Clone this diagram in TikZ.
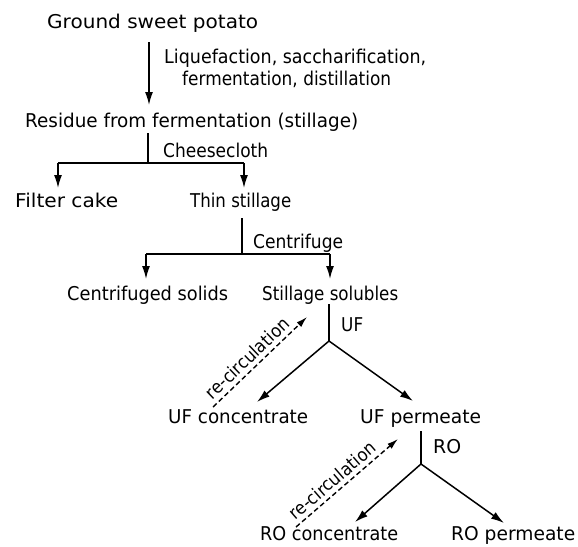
\documentclass[tikz,border=0pt]{standalone}
\usepackage{fontspec}
\setmainfont{DejaVu Sans}
\usepackage{graphicx}
\usetikzlibrary{arrows.meta}
\newcommand\fitw[2]{\resizebox{#1pt}{\height}{#2}}
\begin{document}
\begin{tikzpicture}[x=1pt,y=-1pt,
  txt/.style={inner sep=0pt, anchor=base west, font=\fontsize{19}{22}\selectfont},
  lab/.style={inner sep=0pt, font=\fontsize{18}{21}\selectfont},
  flow/.style={line width=1.5pt},
  arr/.style={line width=1.5pt, -{Latex[length=13pt,width=8pt]}},
  recirc/.style={line width=1.4pt, dash pattern=on 5pt off 3pt, -{Latex[length=11pt,width=6.5pt]}}]
\useasboundingbox (0,0) rectangle (578,546);
% texts
\node[txt] (ground)   at (47,28)   {\fitw{211}{Ground sweet potato}};
\node[txt] (liq1)     at (164,63)  {\fitw{262}{Liquefaction, saccharification,}};
\node[txt] (liq2)     at (182,85)  {\fitw{209}{fermentation, distillation}};
\node[txt] (residue)  at (25,127)  {\fitw{333}{Residue from fermentation (stillage)}};
\node[txt] (cheese)   at (163,157) {\fitw{105}{Cheesecloth}};
\node[txt] (filter)   at (15,207)  {\fitw{103}{Filter cake}};
\node[txt] (thin)     at (190,207) {\fitw{101}{Thin stillage}};
\node[txt] (centri)   at (253,248) {\fitw{90}{Centrifuge}};
\node[txt] (csolids)  at (67,300)  {\fitw{161}{Centrifuged solids}};
\node[txt] (solubles) at (262,300) {\fitw{136}{Stillage solubles}};
\node[txt] (uf)       at (341,331) {\fitw{22}{UF}};
\node[txt] (ufconc)   at (168,423) {\fitw{140}{UF concentrate}};
\node[txt] (ufperm)   at (360,423) {\fitw{121}{UF permeate}};
\node[txt] (ro)       at (433,453) {\fitw{28}{RO}};
\node[txt] (roconc)   at (260,540) {\fitw{138}{RO concentrate}};
\node[txt] (roperm)   at (451,540) {\fitw{124}{RO permeate}};
% coordinates
\coordinate (g0) at (149,42);  \coordinate (g1) at (149,105);
\coordinate (r0) at (148,133); \coordinate (r1) at (148,163);
\coordinate (rl) at (58,163);  \coordinate (rr) at (244,163);
\coordinate (fe) at (58,188);  \coordinate (te) at (244,188);
\coordinate (t0) at (242,218); \coordinate (t1) at (242,254);
\coordinate (tl) at (146,254); \coordinate (tr) at (330,254);
\coordinate (ce) at (146,279); \coordinate (se) at (330,279);
\coordinate (s0) at (329,304); \coordinate (s1) at (329,341);
\coordinate (ucE) at (257,402); \coordinate (upE) at (413,401);
\coordinate (ua) at (213,407); \coordinate (ub) at (307,317);
\coordinate (p0) at (421,431); \coordinate (p1) at (421,464);
\coordinate (rcE) at (355,522); \coordinate (rpE) at (504,523);
\coordinate (ra) at (296,527); \coordinate (rb) at (398,439);
% connectors
\draw[arr] (g0) -- (g1);
\draw[flow] (r0) -- (r1);
\draw[flow] (rl) -- (rr);
\draw[arr] (rl) -- (fe);
\draw[arr] (rr) -- (te);
\draw[flow] (t0) -- (t1);
\draw[flow] (tl) -- (tr);
\draw[arr] (tl) -- (ce);
\draw[arr] (tr) -- (se);
\draw[flow] (s0) -- (s1);
\draw[arr] (s1) -- (ucE);
\draw[arr] (s1) -- (upE);
\draw[recirc] (ua) -- node[lab, sloped, above=4pt, pos=0.45] (rc1) {\fitw{108}{re-circulation}} (ub);
\draw[flow] (p0) -- (p1);
\draw[arr] (p1) -- (rcE);
\draw[arr] (p1) -- (rpE);
\draw[recirc] (ra) -- node[lab, sloped, above=4pt, pos=0.43] (rc2) {\fitw{108}{re-circulation}} (rb);
\end{tikzpicture}
\end{document}
